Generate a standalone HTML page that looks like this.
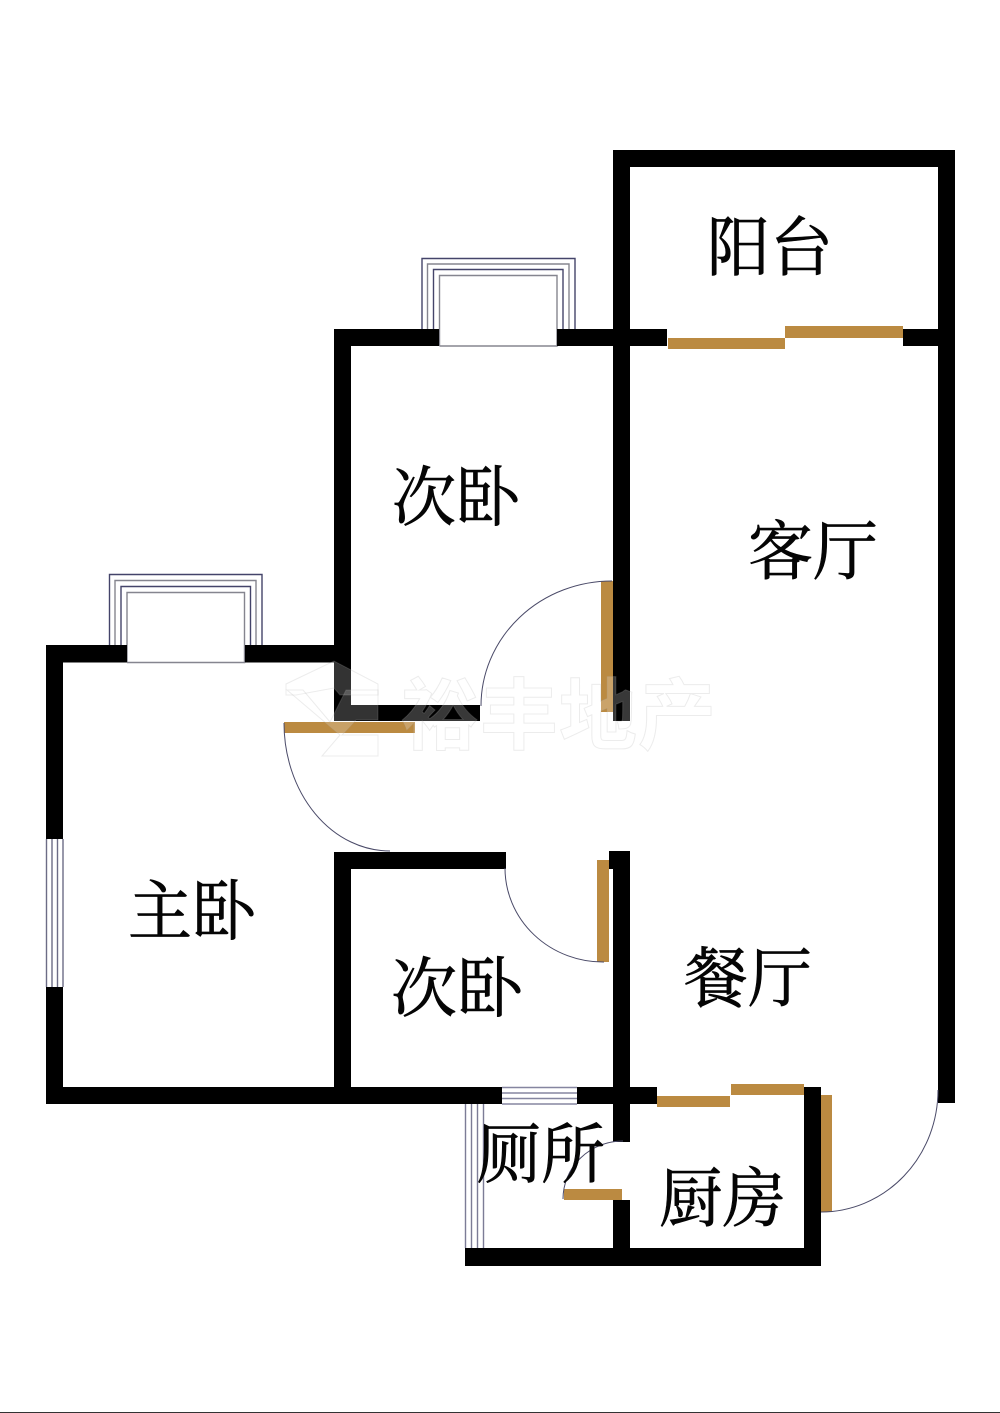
<!DOCTYPE html>
<html lang="zh">
<head>
<meta charset="utf-8">
<title>户型图</title>
<style>
html,body{margin:0;padding:0;background:#fff;}
svg{display:block;}
.lb{font-family:"Liberation Serif","Noto Serif CJK SC",serif;font-size:65px;fill:#050505;stroke:#050505;stroke-width:.7;}
.wm{font-family:"Liberation Sans","Noto Sans CJK SC",sans-serif;font-size:78px;font-weight:700;fill:rgba(255,255,255,.22);stroke:rgba(170,170,170,.22);stroke-width:1;}
</style>
</head>
<body>
<svg xmlns="http://www.w3.org/2000/svg" width="1000" height="1413" viewBox="0 0 1000 1413">
<rect width="1000" height="1413" fill="#fff"/>
<rect x="0" y="1412" width="1000" height="1" fill="#333"/>

<!-- bay windows -->
<g fill="none" stroke-width="1.4">
<path d="M422 329V258.500H575V329" stroke="#44446a"/>
<path d="M427.500 329V264H569V329" stroke="#85858f"/>
<path d="M433.500 329V269.500H563V329" stroke="#44446a"/>
<path d="M439.500 346V275.500H557V346H439.500" stroke="#85858f"/>
<path d="M109.500 645V574.500H262V645" stroke="#44446a"/>
<path d="M115 645V580.500H256V645" stroke="#85858f"/>
<path d="M121 645V586.500H250.500V645" stroke="#44446a"/>
<path d="M127 662.500V592.500H244.500V662.500H127" stroke="#85858f"/>
<!-- left window -->
<path d="M46.500 839V987M52 839V987M57.500 839V987M63 839V987" stroke="#6c6c86"/>
<!-- small north window -->
<path d="M502 1087.500H577M502 1093H577M502 1098.500H577M502 1104H577" stroke="#8585a0"/>
<!-- bathroom window -->
<path d="M465.500 1104V1248M471.500 1104V1248M477.500 1104V1248M483.500 1104V1248" stroke="#7c7c96"/>
</g>

<!-- walls -->
<g fill="#000">
<rect x="613" y="150" width="342" height="17"/>
<rect x="613" y="150" width="17" height="571"/>
<rect x="938" y="150" width="17" height="953"/>
<rect x="334" y="329" width="105" height="17"/>
<rect x="557" y="329" width="110" height="17"/>
<rect x="903" y="329" width="35" height="17"/>
<rect x="334" y="329" width="17" height="392"/>
<rect x="351" y="705" width="129" height="16"/>
<rect x="46" y="645" width="81" height="17.500"/>
<rect x="245" y="645" width="89" height="17.500"/>
<rect x="46" y="645" width="17" height="194"/>
<rect x="46" y="987" width="17" height="117"/>
<rect x="46" y="1087" width="456" height="17"/>
<rect x="577" y="1087" width="80" height="17"/>
<rect x="334" y="852" width="172" height="17"/>
<rect x="334" y="852" width="17" height="235"/>
<rect x="609" y="851" width="21" height="18"/>
<rect x="613" y="851" width="17" height="291"/>
<rect x="613" y="1200" width="17" height="50"/>
<rect x="465" y="1248" width="356" height="18"/>
<rect x="804" y="1087" width="17" height="179"/>
</g>

<!-- gold doors -->
<g fill="#bb8a41">
<rect x="668" y="338" width="117" height="11"/>
<rect x="785" y="326" width="118" height="12"/>
<rect x="601" y="581" width="12" height="131"/>
<rect x="284" y="722" width="131" height="11"/>
<rect x="597" y="860" width="12" height="102"/>
<rect x="657" y="1096" width="73" height="11"/>
<rect x="731" y="1084" width="73" height="11"/>
<rect x="821" y="1095" width="11" height="117"/>
<rect x="564" y="1189" width="58" height="11"/>
</g>

<!-- door arcs -->
<g fill="none" stroke="#4a4a68" stroke-width="1">
<path d="M612 581A131 125 0 0 0 481 706"/>
<path d="M284 723A106 128 0 0 0 390 851"/>
<path d="M505 868A98 94 0 0 0 604 962"/>
<path d="M821 1212A117 122 0 0 0 938 1090"/>
<path d="M563 1199A60 58 0 0 1 623 1141"/>
</g>

<!-- labels -->
<g class="lb">
<text x="707" y="270" textLength="126" lengthAdjust="spacingAndGlyphs">阳台</text>
<text x="392" y="520" textLength="128" lengthAdjust="spacingAndGlyphs">次卧</text>
<text x="748" y="574" textLength="130" lengthAdjust="spacingAndGlyphs">客厅</text>
<text x="128" y="934" textLength="128" lengthAdjust="spacingAndGlyphs">主卧</text>
<text x="391" y="1011" textLength="132" lengthAdjust="spacingAndGlyphs">次卧</text>
<text x="684" y="1001" textLength="128" lengthAdjust="spacingAndGlyphs">餐厅</text>
<text x="477" y="1177" textLength="128" lengthAdjust="spacingAndGlyphs">厕所</text>
<text x="659" y="1221" textLength="127" lengthAdjust="spacingAndGlyphs">厨房</text>
</g>

<!-- watermark -->
<g fill="rgba(255,255,255,.2)" stroke="rgba(170,170,170,.22)" stroke-width="1">
<path d="M286 684L334 661L378 684V695H340L334 688L296 695H286Z"/>
<path d="M287 690H303L330 722L346 690H378V720H356L342 735H378V756H322L340 735Z"/>
</g>
<text class="wm" x="401" y="743" textLength="315" lengthAdjust="spacing">裕丰地产</text>
</svg>
</body>
</html>
